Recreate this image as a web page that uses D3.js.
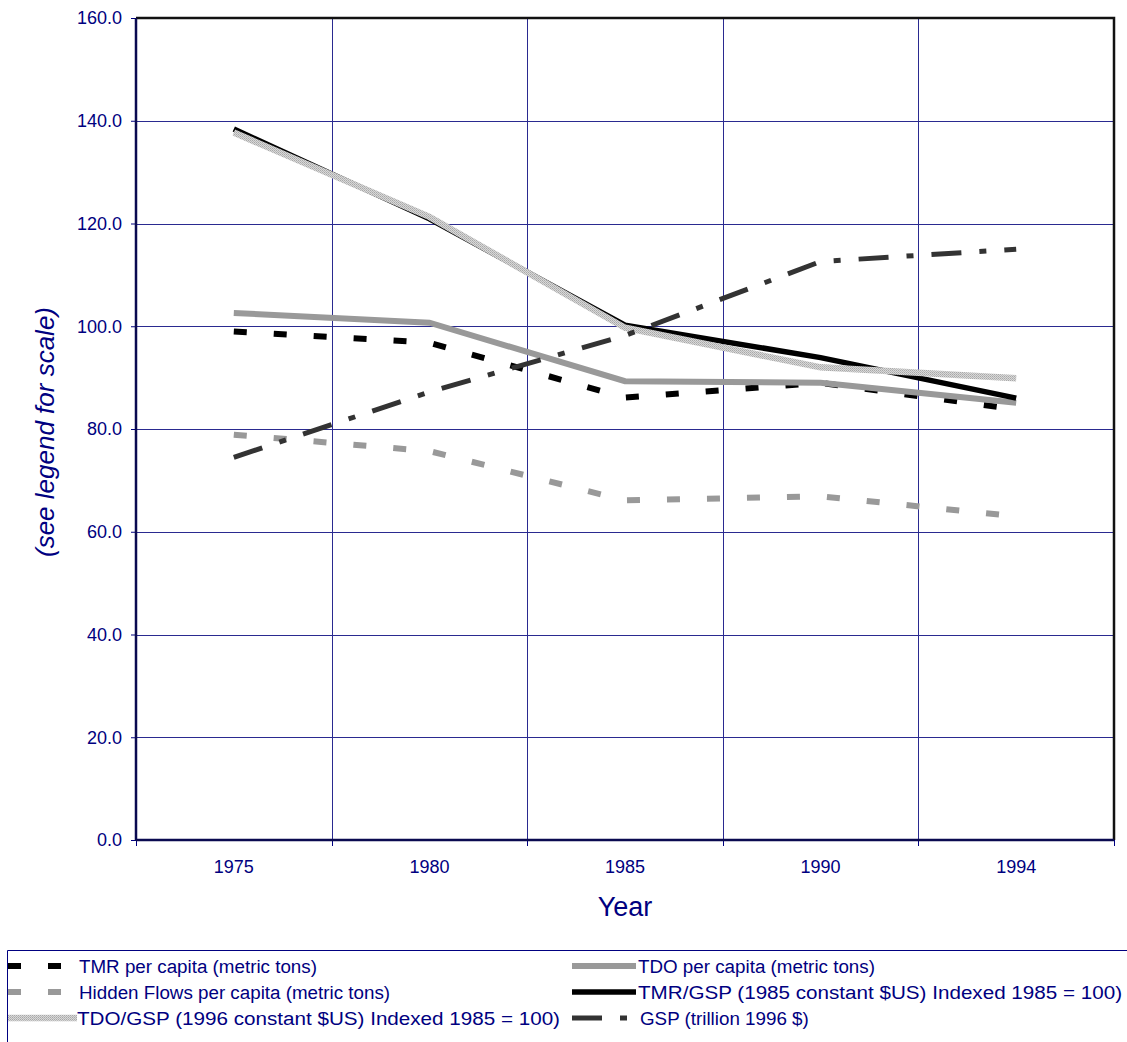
<!DOCTYPE html>
<html lang="en">
    <head>
        <meta charset="utf-8">
        <title>Material flows</title>
        <script type="text/javascript" src="https://cdn.jsdelivr.net/npm/d3@7"></script>
        <style>
            body { margin: 0; background: #fff; }
            text { font-family: Arial, "Liberation Sans", sans-serif; fill: #000080; }
        </style>
    </head>
    <body>
        <script type="text/javascript">

            //Data
            var years = ["1975", "1980", "1985", "1990", "1994"];
            var tmrPerCapita = [99.0, 96.8, 86.1, 89.0, 83.8];
            var tdoPerCapita = [102.6, 100.7, 89.3, 89.0, 85.1];
            var hiddenFlows = [78.9, 75.7, 66.1, 66.9, 63.0];
            var tmrGsp = [138.4, 120.9, 100.2, 93.9, 86.0];
            var tdoGsp = [137.7, 121.3, 99.7, 92.0, 89.9];
            var gsp = [74.5, 87.2, 98.2, 112.6, 115.0];
            var yTicks = [0, 20, 40, 60, 80, 100, 120, 140, 160];

            //Width and height
            var w = 1127;
            var h = 1042;
            var plotLeft = 136, plotRight = 1114, plotTop = 18, plotBottom = 840;

            //Create scale functions
            var xScale = d3.scaleBand()
                    .domain(years)
                    .range([plotLeft, plotRight]);

            var yScale = d3.scaleLinear()
                    .domain([0, 160])
                    .range([plotBottom, plotTop]);

            //Create SVG element
            var svg = d3.select("body")
                    .append("svg")
                    .attr("width", w)
                    .attr("height", h);

            //hatched fill for the TDO/GSP line
            var pat = svg.append("defs").append("pattern")
                    .attr("id", "hatch")
                    .attr("patternUnits", "userSpaceOnUse")
                    .attr("width", 2)
                    .attr("height", 2);
            pat.append("rect").attr("width", 2).attr("height", 2).attr("fill", "#d8d8d8");
            pat.append("rect").attr("width", 1).attr("height", 1).attr("fill", "#a8a8a8");
            pat.append("rect").attr("x", 1).attr("y", 1).attr("width", 1).attr("height", 1).attr("fill", "#b8b8b8");

            //grid
            svg.append("g")
                    .selectAll("line")
                    .data(yTicks.slice(1, -1))
                    .enter()
                    .append("line")
                    .attr("x1", plotLeft)
                    .attr("x2", plotRight)
                    .attr("y1", function (d) { return Math.round(yScale(d)) + 0.5; })
                    .attr("y2", function (d) { return Math.round(yScale(d)) + 0.5; })
                    .attr("stroke", "#2a2a90")
                    .attr("stroke-width", 1);

            var bounds = years.slice(1).map(function (d) { return xScale(d); });
            svg.append("g")
                    .selectAll("line")
                    .data(bounds)
                    .enter()
                    .append("line")
                    .attr("x1", function (d) { return Math.round(d) + 0.5; })
                    .attr("x2", function (d) { return Math.round(d) + 0.5; })
                    .attr("y1", plotTop)
                    .attr("y2", plotBottom)
                    .attr("stroke", "#2a2a90")
                    .attr("stroke-width", 1);

            //frame top and right
            svg.append("path")
                    .attr("d", "M" + plotLeft + "," + plotTop + "H" + plotRight + "V" + plotBottom)
                    .attr("fill", "none")
                    .attr("stroke", "#111")
                    .attr("stroke-width", 2.5);

            //Axes
            var yAxis = d3.axisLeft(yScale)
                    .tickValues(yTicks)
                    .tickFormat(d3.format(".1f"))
                    .tickSize(5)
                    .tickPadding(9);

            var gy = svg.append("g")
                    .attr("transform", "translate(" + plotLeft + ",0)")
                    .call(yAxis);
            gy.select(".domain").remove();
            gy.selectAll("line").attr("stroke", "#000080");
            gy.selectAll("text").attr("font-size", "18px").attr("fill", "#000080")
                    .style("font-family", "Arial, 'Liberation Sans', sans-serif");

            var xAxis = d3.axisBottom(xScale)
                    .tickSize(0)
                    .tickPadding(20);

            var gx = svg.append("g")
                    .attr("transform", "translate(0," + plotBottom + ")")
                    .call(xAxis);
            gx.select(".domain").remove();
            gx.selectAll("text").attr("font-size", "18px").attr("fill", "#000080")
                    .style("font-family", "Arial, 'Liberation Sans', sans-serif");

            //x tick marks on category boundaries
            svg.append("g")
                    .selectAll("line")
                    .data([plotLeft].concat(bounds, [plotRight]))
                    .enter()
                    .append("line")
                    .attr("x1", function (d) { return Math.round(d) + 0.5; })
                    .attr("x2", function (d) { return Math.round(d) + 0.5; })
                    .attr("y1", plotBottom)
                    .attr("y2", plotBottom + 6)
                    .attr("stroke", "#000080");

            //axis lines
            svg.append("line")
                    .attr("x1", plotLeft).attr("x2", plotLeft)
                    .attr("y1", plotTop).attr("y2", plotBottom + 1)
                    .attr("stroke", "#0a0a50")
                    .attr("stroke-width", 2.5);
            svg.append("line")
                    .attr("x1", plotLeft).attr("x2", plotRight)
                    .attr("y1", plotBottom).attr("y2", plotBottom)
                    .attr("stroke", "#0a0a50")
                    .attr("stroke-width", 2.5);

            //Axis titles
            svg.append("text")
                    .attr("x", 625)
                    .attr("y", 916)
                    .attr("text-anchor", "middle")
                    .attr("font-size", "27px")
                    .text("Year");

            svg.append("text")
                    .attr("transform", "translate(54,432) rotate(-90)")
                    .attr("text-anchor", "middle")
                    .attr("font-size", "26px")
                    .attr("font-style", "italic")
                    .text("(see legend for scale)");

            //Series
            var series = [
                {name: "TMR per capita (metric tons)", values: tmrPerCapita, color: "#000", width: 6, dash: "13,27"},
                {name: "TDO per capita (metric tons)", values: tdoPerCapita, color: "#999", width: 6, dash: null},
                {name: "Hidden Flows per capita (metric tons)", values: hiddenFlows, color: "#999", width: 6, dash: "13,27"},
                {name: "TMR/GSP (1985 constant $US) Indexed 1985 = 100)", values: tmrGsp, color: "#000", width: 5.5, dash: null, len: 484},
                {name: "TDO/GSP (1996 constant $US) Indexed 1985 = 100)", values: tdoGsp, color: "url(#hatch)", width: 6.5, dash: null, len: 483},
                {name: "GSP (trillion 1996 $)", values: gsp, color: "#333", width: 5, dash: "30,18,7,18"}
            ];

            var line = d3.line()
                    .x(function (d, i) { return xScale(years[i]) + xScale.bandwidth() / 2; })
                    .y(function (d) { return yScale(d); });

            svg.append("g")
                    .selectAll("path")
                    .data(series)
                    .enter()
                    .append("path")
                    .attr("d", function (d) { return line(d.values); })
                    .attr("fill", "none")
                    .attr("stroke", function (d) { return d.color; })
                    .attr("stroke-width", function (d) { return d.width; })
                    .attr("stroke-dasharray", function (d) { return d.dash; });

            //Legend
            var legend = svg.append("g");
            legend.append("path")
                    .attr("d", "M1135,950.5H7.5V1050")
                    .attr("fill", "none")
                    .attr("stroke", "#000080")
                    .attr("stroke-width", 1);

            var legendPos = [
                {x1: 8, x2: 62, tx: 79, row: 0},
                {x1: 572, x2: 636, tx: 638, row: 0},
                {x1: 8, x2: 62, tx: 79, row: 1},
                {x1: 572, x2: 636, tx: 638, row: 1},
                {x1: 8, x2: 77, tx: 77, row: 2},
                {x1: 572, x2: 630, tx: 640, row: 2}
            ];

            var items = legend.selectAll("g.item")
                    .data(series)
                    .enter()
                    .append("g")
                    .attr("class", "item")
                    .attr("transform", function (d, i) { return "translate(0," + (973 + legendPos[i].row * 26) + ")"; });

            items.append("line")
                    .attr("x1", function (d, i) { return legendPos[i].x1; })
                    .attr("x2", function (d, i) { return legendPos[i].x2; })
                    .attr("y1", -7)
                    .attr("y2", -7)
                    .attr("stroke", function (d) { return d.color; })
                    .attr("stroke-width", function (d) { return d.width; })
                    .attr("stroke-dasharray", function (d) { return d.dash; });

            items.append("text")
                    .attr("x", function (d, i) { return legendPos[i].tx; })
                    .attr("font-size", "18.8px")
                    .attr("textLength", function (d) { return d.len || null; })
                    .attr("lengthAdjust", "spacingAndGlyphs")
                    .text(function (d) { return d.name; });

        </script>
    </body>
</html>
